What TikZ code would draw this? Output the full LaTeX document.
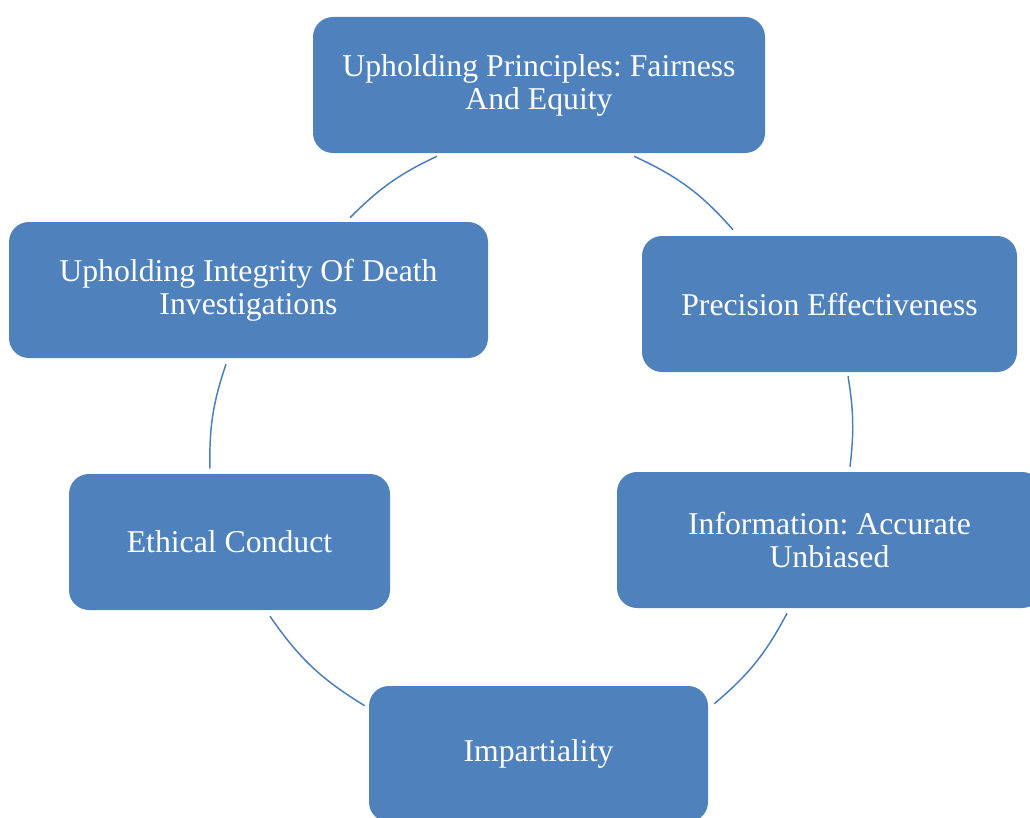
\documentclass[tikz,border=0pt]{standalone}
\usepackage{fontspec}
\setmainfont{Liberation Serif}
\usetikzlibrary{calc}
\definecolor{boxblue}{HTML}{4F81BD}
\definecolor{arcblue}{HTML}{4A7EBB}
\frenchspacing

\begin{document}
\begin{tikzpicture}[x=0.75pt, y=-0.75pt,
    box/.style={fill=boxblue, rounded corners=15pt, minimum height=102pt, inner sep=0pt,
        align=center, text=white, font=\fontsize{23.8pt}{24.8pt}\selectfont},
    cyc/.style={draw=arcblue, line width=1.1pt}]
    \useasboundingbox (0,0) rectangle (1030,817);

    \node (top) at (539,85) [box, minimum width=339pt] {Upholding Principles: Fairness\\And Equity};
    \node (prec) at (829.5,304) [box, minimum width=281.25pt] {Precision Effectiveness};
    \node (info) at (829.5,540) [box, minimum width=318.75pt] {Information: Accurate\\Unbiased};
    \node (imp) at (538.5,754) [box, minimum width=254.25pt] {Impartiality};
    \node (eth) at (229.5,542) [box, minimum width=240.75pt] {Ethical Conduct};
    \node (integ) at (248.5,290) [box, minimum width=359.25pt] {Upholding Integrity Of Death\\Investigations};

    \draw[cyc] ($(top.south)+(95,3)$) to[bend left=12] ($(prec.north)+(-96.5,-6)$);
    \draw[cyc] ($(prec.south)+(18.5,4)$) to[bend left=8] ($(info.north)+(20.5,-5)$);
    \draw[cyc] ($(info.south)+(-42.5,5)$) to[bend left=11] ($(imp.north east)+(6,18)$);
    \draw[cyc] ($(imp.north west)+(-4,20)$) to[bend left=12] ($(eth.south)+(40.5,6)$);
    \draw[cyc] ($(eth.north)+(-19.5,-5)$) to[bend left=10] ($(integ.south)+(-22.5,6)$);
    \draw[cyc] ($(integ.north)+(101.5,-4)$) to[bend left=10] ($(top.south)+(-102,3)$);
\end{tikzpicture}
\end{document}
